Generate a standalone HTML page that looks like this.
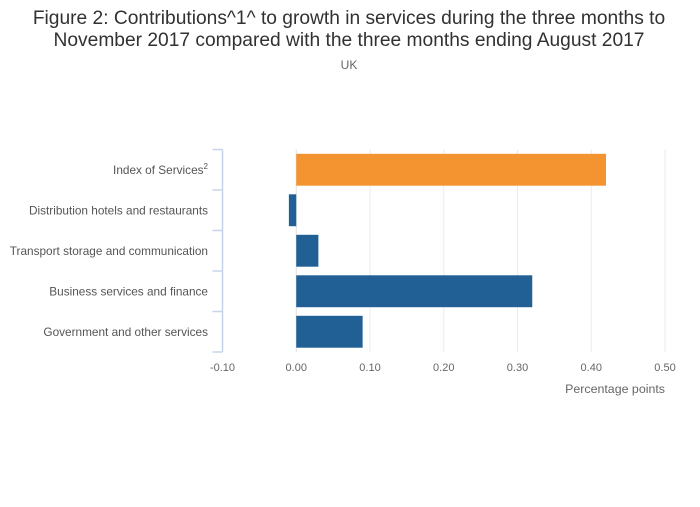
<!DOCTYPE html>
<html><head><meta charset="utf-8"><style>
body{margin:0;background:#fff;font-family:"Liberation Sans",sans-serif}
svg text{font-family:"Liberation Sans",sans-serif}
</style></head><body>
<svg id="chart" width="700" height="502" xmlns="http://www.w3.org/2000/svg">
<rect width="700" height="502" fill="#fff"/>
<text x="349" y="24" font-size="19.2" fill="#323132" text-anchor="middle">Figure 2: Contributions^1^ to growth in services during the three months to</text>
<text x="349" y="46" font-size="19.2" fill="#323132" text-anchor="middle">November 2017 compared with the three months ending August 2017</text>
<text x="349" y="69" font-size="12" fill="#666" text-anchor="middle">UK</text>
<g id="grid"></g><g id="bars"></g><g id="axes"></g>
<text x="665" y="393" font-size="12.4" fill="#666" text-anchor="end">Percentage points</text>
</svg>
<script>
const categories=["Index of Services","Distribution hotels and restaurants","Transport storage and communication","Business services and finance","Government and other services"];
const values=[0.42,-0.01,0.03,0.32,0.09];
const colors=["#f39431","#206095","#206095","#206095","#206095"];
const ticks=[-0.1,0,0.1,0.2,0.3,0.4,0.5];
const tickLabels=["-0.10","0.00","0.10","0.20","0.30","0.40","0.50"];
const NS="http://www.w3.org/2000/svg";
const x0=222.5,x1=665,y0=149.5,y1=352,vmin=-0.1,vmax=0.5;
const xs=v=>x0+(v-vmin)/(vmax-vmin)*(x1-x0);
const band=(y1-y0)/categories.length;
const ys=i=>y0+i*band;
function mk(t,a,p){const e=document.createElementNS(NS,t);for(const k in a)e.setAttribute(k,a[k]);p.appendChild(e);return e;}
const grid=document.getElementById('grid'),bars=document.getElementById('bars'),axes=document.getElementById('axes');
ticks.forEach((t,i)=>{
  if(i>0){const g=mk('line',{x1:xs(t),x2:xs(t),y1:y0,y2:y1,stroke:t===0?'#e0e0e0':'#ebebeb','stroke-width':1},grid);
  
  }
  const l=mk('text',{x:xs(t),y:371,'font-size':11,fill:'#666','text-anchor':'middle'},axes);
  l.textContent=tickLabels[i];
  
  
});
values.forEach((v,i)=>{
  const a=xs(Math.min(0,v)),b=xs(Math.max(0,v));
  const r=mk('rect',{x:a,y:ys(i)+4.3,width:b-a,height:band-8.6,fill:colors[i]},bars);
  
  
  const l=mk('text',{x:208,y:ys(i)+band/2+4,'font-size':11.8,fill:'#555','text-anchor':'end'},axes);
  l.textContent=categories[i];
  
  
  if(i===0){const s=mk('tspan',{dy:-5,'font-size':8},l);s.textContent='2';}
});
const ax=mk('line',{x1:x0,x2:x0,y1:y0,y2:y1,stroke:'#c6d4ea','stroke-width':1.5},axes);


for(let i=0;i<=categories.length;i++){
  const t=mk('line',{x1:x0-10,x2:x0,y1:ys(i),y2:ys(i),stroke:'#c6d4ea','stroke-width':1.5},axes);
  
  
}
</script>
</body></html>
